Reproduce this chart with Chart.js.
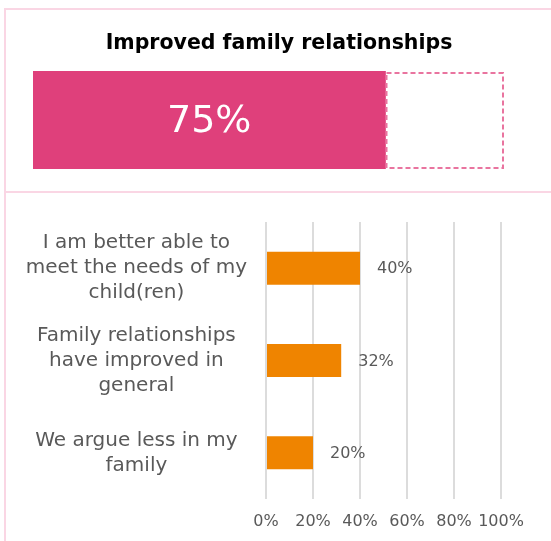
<!DOCTYPE html>
<html>
<head>
<meta charset="utf-8">
<script src="https://cdn.jsdelivr.net/npm/chart.js@4/dist/chart.umd.min.js"></script>
<style>
  html, body { margin: 0; padding: 0; background: #ffffff; overflow: hidden; }
  body { width: 551px; height: 541px; position: relative; }
  .frame { position: absolute; left: 4px; top: 8px; width: 600px; height: 600px;
           border-left: 2px solid #FAD6E4; border-top: 2px solid #FAD6E4; box-sizing: border-box; }
  .divider { position: absolute; left: 4px; top: 191px; width: 600px; height: 2px; background: #FAD6E4; }
  #topChart { position: absolute; left: 0; top: 0; }
  #bottomChart { position: absolute; left: 0; top: 192px; }
</style>
</head>
<body>
<div class="frame"></div>
<div class="divider"></div>
<canvas id="topChart" width="551" height="192"></canvas>
<canvas id="bottomChart" width="551" height="349"></canvas>
<script>
// Headline measure
const headline = 'Improved family relationships';
const overallShare = [75];

// Breakdown by statement
const statements = [
  ['I am better able to', 'meet the needs of my', 'child(ren)'],
  ['Family relationships', 'have improved in', 'general'],
  ['We argue less in my', 'family']
];
const agreeShares = [40, 32, 20];
const tickLabels = ['0%', '20%', '40%', '60%', '80%', '100%'];

const FONT = "'DejaVu Sans', Verdana, sans-serif";
Chart.defaults.font.family = FONT;
Chart.defaults.animation = false;

// Dashed remainder box, big percentage and heading for the top block
const headlineBar = {
  id: 'headlineBar',
  afterDatasetsDraw(chart) {
    const ctx = chart.ctx;
    const filled = chart.getDatasetMeta(0).data[0];
    const rest = chart.getDatasetMeta(1).data[0];
    const top = rest.y - rest.height / 2;
    ctx.save();
    ctx.strokeStyle = '#E9749F';
    ctx.lineWidth = 2;
    ctx.setLineDash([5, 3]);
    ctx.strokeRect(rest.base + 1, top + 2, rest.x - rest.base - 1, rest.height - 3);
    ctx.setLineDash([]);
    ctx.fillStyle = '#ffffff';
    ctx.font = '38px ' + FONT;
    ctx.textAlign = 'center';
    ctx.textBaseline = 'middle';
    ctx.fillText(overallShare[0] + '%', (filled.base + filled.x) / 2, filled.y + 2);
    ctx.fillStyle = '#000000';
    ctx.font = 'bold 20.5px ' + FONT;
    ctx.fillText(headline, chart.width / 2 + 3.5, 44);
    ctx.restore();
  }
};

new Chart(document.getElementById('topChart'), {
  type: 'bar',
  data: {
    labels: [headline],
    datasets: [
      { data: overallShare, backgroundColor: '#DF407B', borderWidth: 0 },
      { data: overallShare.map(v => 100 - v), backgroundColor: '#ffffff', borderWidth: 0 }
    ]
  },
  options: {
    responsive: false,
    indexAxis: 'y',
    layout: { padding: { left: 33, right: 48, top: 71, bottom: 23 } },
    datasets: { bar: { barPercentage: 1, categoryPercentage: 1 } },
    scales: {
      x: { display: false, stacked: true, min: 0, max: 100 },
      y: { display: false, stacked: true }
    },
    plugins: { legend: { display: false }, tooltip: { enabled: false }, title: { display: false } }
  },
  plugins: [headlineBar]
});

// Value labels to the right of each bar
const pctLabels = {
  id: 'pctLabels',
  afterDatasetsDraw(chart) {
    const ctx = chart.ctx;
    ctx.save();
    ctx.font = '16px ' + FONT;
    ctx.fillStyle = '#595959';
    ctx.textAlign = 'left';
    ctx.textBaseline = 'middle';
    chart.getDatasetMeta(0).data.forEach((bar, i) => {
      ctx.fillText(agreeShares[i] + '%', bar.x + 17, bar.y + 1);
    });
    ctx.restore();
  }
};

new Chart(document.getElementById('bottomChart'), {
  type: 'bar',
  data: {
    labels: statements,
    datasets: [{ data: agreeShares, backgroundColor: '#EF8400', borderWidth: 0 }]
  },
  options: {
    responsive: false,
    indexAxis: 'y',
    layout: { padding: { left: 20, right: 50, top: 30, bottom: 10 } },
    datasets: { bar: { barPercentage: 0.357, categoryPercentage: 1 } },
    scales: {
      x: {
        min: 0, max: 100,
        border: { display: false },
        grid: { color: '#DCDCDC', lineWidth: 2, drawTicks: false },
        ticks: {
          stepSize: 20,
          padding: 13,
          color: '#595959',
          font: { size: 16 },
          maxRotation: 0,
          autoSkip: false,
          callback: (v, i) => tickLabels[i]
        },
        afterFit(scale) { scale.height = 32; scale.paddingLeft = 0; scale.paddingRight = 0; }
      },
      y: {
        border: { display: false },
        grid: { display: false, drawTicks: false },
        ticks: {
          color: '#595959',
          font: { size: 20, lineHeight: 1.25 },
          crossAlign: 'center',
          padding: 19
        },
        afterFit(scale) { scale.width = 246; scale.paddingTop = 0; scale.paddingBottom = 0; }
      }
    },
    plugins: { legend: { display: false }, tooltip: { enabled: false } }
  },
  plugins: [pctLabels]
});
</script>
</body>
</html>
